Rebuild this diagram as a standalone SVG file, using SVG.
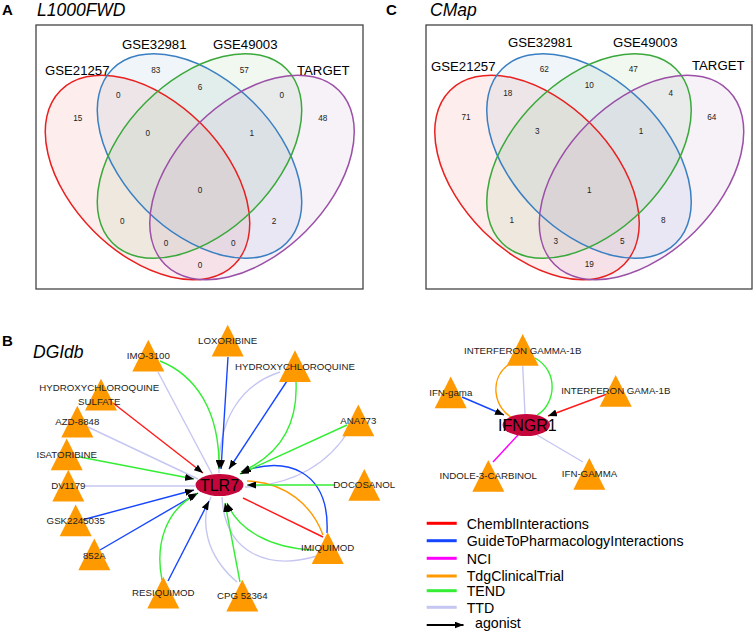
<svg xmlns="http://www.w3.org/2000/svg" xmlns:xlink="http://www.w3.org/1999/xlink" width="753" height="633" viewBox="0 0 753 633">
<style>
text{font-family:"Liberation Sans",Arial,sans-serif;fill:#000}
.plabel{font-weight:bold;font-size:15px}
.ptitle{font-style:italic;font-size:17.5px}
.box{fill:none;stroke:#444;stroke-width:1.3}
.set{font-size:13.2px}
.num{font-size:8.2px;text-anchor:middle;dominant-baseline:central;fill:#222}
.fr{fill:#e8201f;fill-opacity:0.08}
.fb{fill:#3a7fc1;fill-opacity:0.08}
.fg{fill:#3aa83a;fill-opacity:0.08}
.fp{fill:#9b4fa7;fill-opacity:0.08}
.sr{fill:none;stroke:#e8201f;stroke-width:1.5}
.sb{fill:none;stroke:#3a7fc1;stroke-width:1.5}
.sg{fill:none;stroke:#3aa83a;stroke-width:1.5}
.sp{fill:none;stroke:#9b4fa7;stroke-width:1.5}
.e{fill:none;stroke-width:1.4}
.red{stroke:#ff1a1a}.blue{stroke:#1546ff}.green{stroke:#33ee33}.lav{stroke:#c6c6f2}.org{stroke:#ff9a00}.mag{stroke:#ff00ff}
.ag{marker-end:url(#arr)}
.tri{fill:#ff9900}
.nl{font-size:9.7px;text-anchor:middle;dominant-baseline:central;fill:#222}
.hub{fill:#c4063a}
.hubl{font-size:16px;text-anchor:middle;dominant-baseline:central}
.lg{stroke-width:3}
.lt{font-size:14.2px;dominant-baseline:central}
</style>
<defs>
<marker id="arr" markerUnits="userSpaceOnUse" markerWidth="9" markerHeight="7" refX="9" refY="3.5" orient="auto">
<path d="M0,0 L9,3.5 L0,7 z" fill="#000"/>
</marker>
<path id="tri" d="M0,-16 L16,15.8 L-16,15.8 z"/>
<g id="venn">
<ellipse class="fr" cx="147.5" cy="177.5" rx="123" ry="76" transform="rotate(45 147.5 177.5)"/>
<ellipse class="fb" cx="199.5" cy="156" rx="123" ry="76" transform="rotate(45 199.5 156)"/>
<ellipse class="fg" cx="199.5" cy="156" rx="123" ry="76" transform="rotate(-45 199.5 156)"/>
<ellipse class="fp" cx="252" cy="177.5" rx="123" ry="76" transform="rotate(-45 252 177.5)"/>
<ellipse class="sr" cx="147.5" cy="177.5" rx="123" ry="76" transform="rotate(45 147.5 177.5)"/>
<ellipse class="sb" cx="199.5" cy="156" rx="123" ry="76" transform="rotate(45 199.5 156)"/>
<ellipse class="sg" cx="199.5" cy="156" rx="123" ry="76" transform="rotate(-45 199.5 156)"/>
<ellipse class="sp" cx="252" cy="177.5" rx="123" ry="76" transform="rotate(-45 252 177.5)"/>
</g>
</defs>

<g id="panelA">
<text class="plabel" x="2" y="15">A</text>
<text class="ptitle" x="37" y="15.5">L1000FWD</text>
<rect class="box" x="36" y="25" width="327" height="264"/>
<use xlink:href="#venn"/>
<text class="set" x="45" y="75">GSE21257</text>
<text class="set" x="122" y="48.5">GSE32981</text>
<text class="set" x="213" y="48.5">GSE49003</text>
<text class="set" x="297" y="75">TARGET</text>
<text class="num" x="77.7" y="118.3">15</text>
<text class="num" x="155.7" y="70.7">83</text>
<text class="num" x="244.3" y="70.7">57</text>
<text class="num" x="322.7" y="118.3">48</text>
<text class="num" x="118.3" y="95">0</text>
<text class="num" x="200" y="87.7">6</text>
<text class="num" x="281.7" y="95">0</text>
<text class="num" x="147.7" y="133.3">0</text>
<text class="num" x="251.7" y="133.3">1</text>
<text class="num" x="200" y="190.7">0</text>
<text class="num" x="122.3" y="221.7">0</text>
<text class="num" x="274" y="221.7">2</text>
<text class="num" x="166" y="243.3">0</text>
<text class="num" x="233.3" y="243.3">0</text>
<text class="num" x="200" y="265">0</text>
</g>

<g id="panelC">
<text class="plabel" x="386" y="15">C</text>
<text class="ptitle" x="430" y="15.5">CMap</text>
<rect class="box" x="426" y="25" width="326" height="264"/>
<use xlink:href="#venn" transform="translate(389.5,0)"/>
<text class="set" x="431" y="70.5">GSE21257</text>
<text class="set" x="508" y="46.7">GSE32981</text>
<text class="set" x="613" y="46.7">GSE49003</text>
<text class="set" x="692" y="70">TARGET</text>
<text class="num" x="544.3" y="69">62</text>
<text class="num" x="633.3" y="69">47</text>
<text class="num" x="507.7" y="93">18</text>
<text class="num" x="589.3" y="85.7">10</text>
<text class="num" x="670.7" y="93">4</text>
<text class="num" x="466" y="117.3">71</text>
<text class="num" x="711.7" y="117.3">64</text>
<text class="num" x="537.3" y="131.7">3</text>
<text class="num" x="641" y="131.7">1</text>
<text class="num" x="589.3" y="190">1</text>
<text class="num" x="511.7" y="220.7">1</text>
<text class="num" x="663.3" y="220.7">8</text>
<text class="num" x="555.7" y="241.7">3</text>
<text class="num" x="622.3" y="241.7">5</text>
<text class="num" x="589.3" y="264">19</text>
</g>

<g id="panelB-title">
<text class="plabel" x="2" y="346">B</text>
<text class="ptitle" x="33" y="358">DGIdb</text>
</g>

<g id="connectors">
<path class="e lav" d="M158,372 L212,474"/>
<path class="e lav" d="M88,427 L198,479"/>
<path class="e lav" d="M85,486 L195,486"/>
<path class="e lav" d="M237,582 C205,555 200,520 211,497"/>
<path class="e lav" d="M317,556 C270,570 225,555 222,497"/>
<path class="e lav" d="M349,430 C330,462 295,485 245,487"/>
<path class="e lav" d="M280,372 C240,385 218,420 219,473"/>
<path class="e red ag" d="M113,403 L203,473"/>
<path class="e green ag" d="M80,457 L194,479"/>
<path class="e blue ag" d="M82,520 L194,490"/>
<path class="e blue ag" d="M100,550 L198,493"/>
<path class="e green ag" d="M162,580 C155,545 165,510 197,494"/>
<path class="e blue ag" d="M168,581 L209,501"/>
<path class="e green ag" d="M240,582 L225,503"/>
<path class="e green ag" d="M313,550 C270,548 238,530 227,503"/>
<path class="e red" d="M323,537 L243,498"/>
<path class="e org" d="M323,535 C312,505 285,482 247,481"/>
<path class="e blue ag" d="M327,533 C330,470 285,455 242,472"/>
<path class="e green ag" d="M335,485 L247,485"/>
<path class="e green ag" d="M347,425 L240,474"/>
<path class="e blue ag" d="M287,381 L229,469"/>
<path class="e green ag" d="M296,382 C298,425 280,455 241,472"/>
<path class="e blue ag" d="M228,357 L221,469"/>
<path class="e green ag" d="M160,361 C195,375 220,410 219,469"/>
<path class="e blue ag" d="M462,397 L504,415"/>
<path class="e red ag" d="M607,394 L548,416"/>
<path class="e org" d="M508,365 C488,380 495,410 513,418"/>
<path class="e green" d="M535,358 C560,372 555,405 537,415"/>
<path class="e lav" d="M522.7,366 L525,414"/>
<path class="e mag" d="M493,462 L518,435"/>
<path class="e lav" d="M537,435 L583,462"/>
</g>

<g id="n-tlr7"><ellipse class="hub" cx="219.5" cy="485" rx="24" ry="11"/><text class="hubl" x="219.5" y="485.5">TLR7</text></g>
<g id="n-imo3100"><use xlink:href="#tri" class="tri" x="148.3" y="355.8"/><text class="nl" x="148.3" y="355.5">IMO-3100</text></g>
<g id="n-hcqs"><use xlink:href="#tri" class="tri" x="101" y="394.7"/><text class="nl" x="99.3" y="387.7">HYDROXYCHLOROQUINE</text><text class="nl" x="99.3" y="401">SULFATE</text></g>
<g id="n-azd8848"><use xlink:href="#tri" class="tri" x="77.3" y="421.8"/><text class="nl" x="77.3" y="421.7">AZD-8848</text></g>
<g id="n-isatoribine"><use xlink:href="#tri" class="tri" x="66.7" y="454.5"/><text class="nl" x="66.7" y="454">ISATORIBINE</text></g>
<g id="n-dv1179"><use xlink:href="#tri" class="tri" x="68.3" y="485.8"/><text class="nl" x="68.3" y="485.7">DV1179</text></g>
<g id="n-gsk"><use xlink:href="#tri" class="tri" x="75.7" y="520.5"/><text class="nl" x="75.7" y="520">GSK2245035</text></g>
<g id="n-852a"><use xlink:href="#tri" class="tri" x="94.3" y="554.5"/><text class="nl" x="94.3" y="555">852A</text></g>
<g id="n-resiquimod"><use xlink:href="#tri" class="tri" x="163.3" y="592.8"/><text class="nl" x="163.3" y="592.3">RESIQUIMOD</text></g>
<g id="n-loxoribine"><use xlink:href="#tri" class="tri" x="227.7" y="340.8"/><text class="nl" x="227.7" y="340.7">LOXORIBINE</text></g>
<g id="n-hcq"><use xlink:href="#tri" class="tri" x="295" y="366.2"/><text class="nl" x="295" y="366">HYDROXYCHLOROQUINE</text></g>
<g id="n-ana773"><use xlink:href="#tri" class="tri" x="358.3" y="420.5"/><text class="nl" x="358.3" y="420">ANA773</text></g>
<g id="n-docosanol"><use xlink:href="#tri" class="tri" x="364.3" y="485"/><text class="nl" x="364.3" y="484.3">DOCOSANOL</text></g>
<g id="n-imiquimod"><use xlink:href="#tri" class="tri" x="327.7" y="548.3"/><text class="nl" x="327.7" y="547.7">IMIQUIMOD</text></g>
<g id="n-cpg"><use xlink:href="#tri" class="tri" x="242.3" y="595.8"/><text class="nl" x="242.3" y="595">CPG 52364</text></g>

<g id="n-ifngr1"><ellipse class="hub" cx="526.3" cy="425" rx="23.7" ry="11"/><text class="hubl" x="527.3" y="425.5">IFNGR1</text></g>
<g id="n-ifngamma1b"><use xlink:href="#tri" class="tri" x="522.7" y="350"/><text class="nl" x="522.7" y="350">INTERFERON GAMMA-1B</text></g>
<g id="n-ifngama"><use xlink:href="#tri" class="tri" x="450.7" y="392.5"/><text class="nl" x="450.8" y="392.3">IFN-gama</text></g>
<g id="n-ifngama1b"><use xlink:href="#tri" class="tri" x="615.7" y="391"/><text class="nl" x="615.8" y="390">INTERFERON GAMA-1B</text></g>
<g id="n-indole"><use xlink:href="#tri" class="tri" x="488.3" y="476"/><text class="nl" x="488.3" y="475">INDOLE-3-CARBINOL</text></g>
<g id="n-ifnGAMMA"><use xlink:href="#tri" class="tri" x="589.3" y="474"/><text class="nl" x="589.5" y="473.3">IFN-GAMMA</text></g>

<g id="legend">
<line class="lg" x1="426.7" y1="523.3" x2="456.7" y2="523.3" stroke="#ff0000"/>
<text class="lt" x="466.7" y="524">ChemblInteractions</text>
<line class="lg" x1="426.7" y1="540.7" x2="456.7" y2="540.7" stroke="#1546ff"/>
<text class="lt" x="466.7" y="541.3">GuideToPharmacologyInteractions</text>
<line class="lg" x1="426.7" y1="558.3" x2="456.7" y2="558.3" stroke="#ff00ff"/>
<text class="lt" x="466.7" y="559">NCI</text>
<line class="lg" x1="426.7" y1="576" x2="456.7" y2="576" stroke="#ff9a00"/>
<text class="lt" x="466.7" y="576.3">TdgClinicalTrial</text>
<line class="lg" x1="426.7" y1="590.7" x2="456.7" y2="590.7" stroke="#33ee33"/>
<text class="lt" x="466.7" y="591">TEND</text>
<line class="lg" x1="426.7" y1="607.3" x2="456.7" y2="607.3" stroke="#c6c6f2"/>
<text class="lt" x="466.7" y="607.5">TTD</text>
<line x1="426.7" y1="625" x2="463.5" y2="625" stroke="#000" stroke-width="2" marker-end="url(#arr)"/>
<text class="lt" x="475" y="623.3">agonist</text>
</g>
</svg>
